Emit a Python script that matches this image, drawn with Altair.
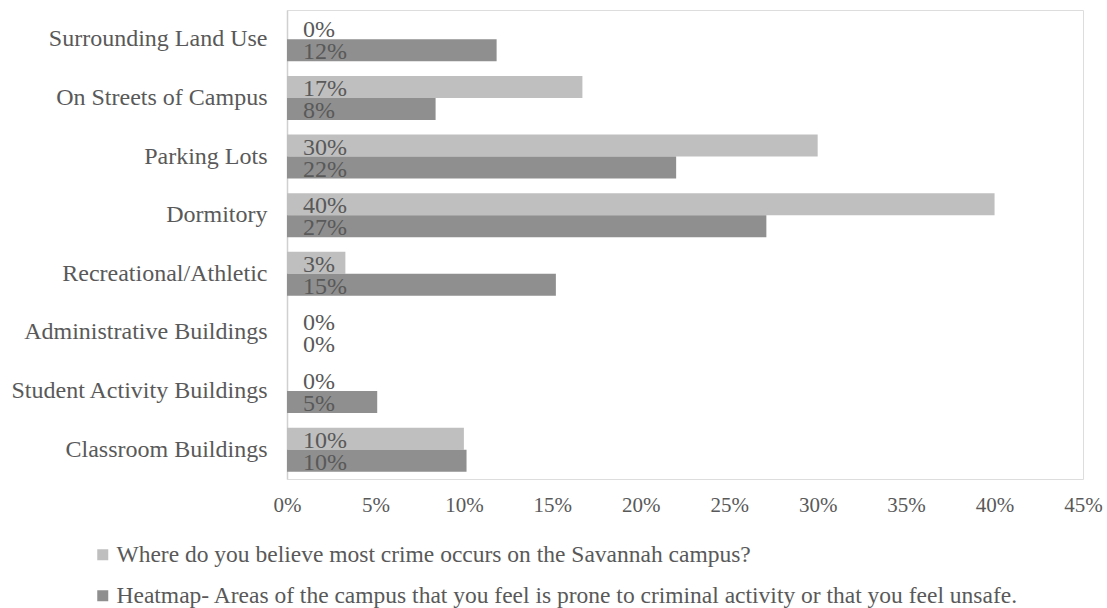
import altair as alt
import pandas as pd

categories = [
    "Surrounding Land Use",
    "On Streets of Campus",
    "Parking Lots",
    "Dormitory",
    "Recreational/Athletic",
    "Administrative Buildings",
    "Student Activity Buildings",
    "Classroom Buildings",
]
series_names = [
    "Where do you believe most crime occurs on the Savannah campus?",
    "Heatmap- Areas of the campus that you feel is prone to criminal activity or that you feel unsafe.",
]
believe_vals = [0.0, 0.167, 0.30, 0.40, 0.033, 0.0, 0.0, 0.10]
heatmap_vals = [0.1185, 0.084, 0.22, 0.271, 0.152, 0.0, 0.051, 0.1015]
series_colors = ["#bfbfbf", "#8f8f8f"]
x_ticks = [0.0, 0.05, 0.10, 0.15, 0.20, 0.25, 0.30, 0.35, 0.40, 0.45]

rows = []
for i, c in enumerate(categories):
    rows.append({"cat": c, "series": series_names[0], "sidx": 0, "value": believe_vals[i]})
    rows.append({"cat": c, "series": series_names[1], "sidx": 1, "value": heatmap_vals[i]})
df = pd.DataFrame(rows)

FONT = "Liberation Serif"
TXT = "#595959"

y_enc = alt.Y(
    "cat:N",
    sort=categories,
    scale=alt.Scale(paddingInner=0.25, paddingOuter=0.125),
    axis=alt.Axis(
        title=None,
        ticks=False,
        labelFontSize=24,
        labelFont=FONT,
        labelColor=TXT,
        labelPadding=20,
        domainColor="#d0d0d0",
        domainWidth=1.5,
        grid=False,
        labelLimit=400,
    ),
)
yoff = alt.YOffset("series:N", sort=series_names, scale=alt.Scale(paddingInner=0, paddingOuter=0))

x_scale = alt.Scale(domain=[0, 0.45], nice=False)

bars = alt.Chart(df).mark_bar().encode(
    y=y_enc,
    yOffset=yoff,
    x=alt.X(
        "value:Q",
        scale=x_scale,
        axis=alt.Axis(
            title=None,
            values=x_ticks,
            format=".0%",
            domain=False,
            ticks=False,
            grid=False,
            labelFontSize=21,
            labelFont=FONT,
            labelColor=TXT,
            labelPadding=15,
            labelFlush=False,
            labelOverlap=False,
        ),
    ),
    color=alt.Color(
        "series:N",
        sort=series_names,
        scale=alt.Scale(domain=series_names, range=series_colors),
        legend=alt.Legend(
            title=None,
            orient="none",
            direction="vertical",
            legendX=-196,
            legendY=533,
            symbolType="square",
            symbolSize=121,
            symbolStrokeWidth=0,
            labelFontSize=23.5,
            labelFont=FONT,
            labelColor=TXT,
            labelOffset=2,
            rowPadding=16,
            labelLimit=1000,
        ),
    ),
)

labels = alt.Chart(df).mark_text(
    align="left", baseline="middle", dx=16, dy=2, font=FONT, fontSize=24, color=TXT
).encode(
    y=alt.Y("cat:N", sort=categories),
    yOffset=yoff,
    x=alt.datum(0),
    text=alt.Text("value:Q", format=".0%"),
)

chart = (
    alt.layer(bars, labels)
    .properties(
        width=796,
        height=469,
        autosize=alt.AutoSizeParams(type="none"),
        padding={"left": 287, "top": 10, "right": 24, "bottom": 129},
    )
    .configure_view(stroke="#d9d9d9", strokeWidth=1)
    .configure(background="white")
)

chart.save("out.html", embed_options={"renderer": "svg", "actions": False})
